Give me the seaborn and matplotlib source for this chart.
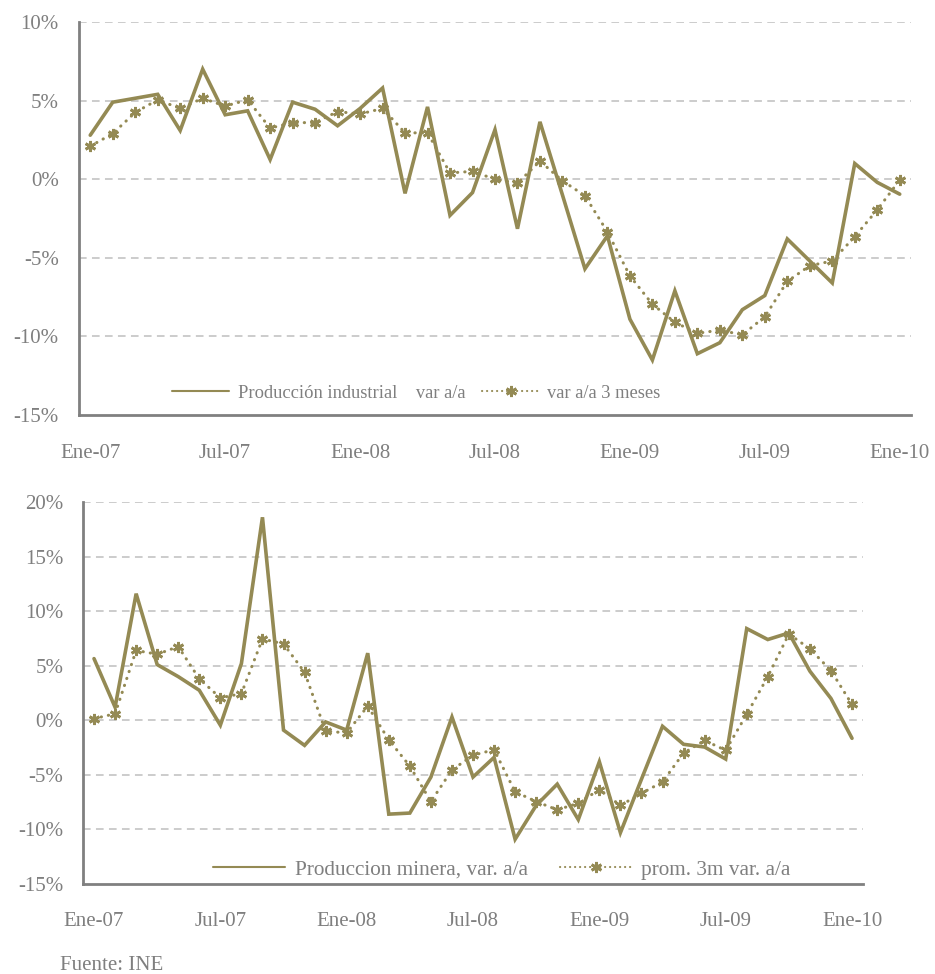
import pandas as pd
import seaborn as sns
import matplotlib.pyplot as plt

# ---------------- datos ----------------
meses = ["Ene", "Feb", "Mar", "Abr", "May", "Jun", "Jul", "Ago", "Sep", "Oct", "Nov", "Dic"]
periodos = [f"{m}-{a}" for a in ["07", "08", "09"] for m in meses] + ["Ene-10"]

prod_industrial = [2.8, 4.9, 5.15, 5.4, 3.1, 7.0, 4.1, 4.35, 1.25, 4.9, 4.45, 3.4,
                   4.5, 5.8, -0.9, 4.6, -2.3, -0.85, 3.15, -3.15, 3.65, -1.0, -5.7, -3.6,
                   -8.9, -11.5, -7.1, -11.1, -10.4, -8.3, -7.4, -3.8, -5.2, -6.6, 1.0, -0.2,
                   -0.95]
prod_industrial_3m = [2.1, 2.9, 4.25, 5.05, 4.5, 5.15, 4.65, 5.05, 3.25, 3.6, 3.6, 4.3,
                      4.15, 4.5, 2.95, 2.95, 0.4, 0.5, 0.0, -0.25, 1.15, -0.1, -1.05, -3.35,
                      -6.15, -7.95, -9.1, -9.8, -9.6, -9.9, -8.75, -6.5, -5.5, -5.2, -3.65, -1.95,
                      -0.05]

prod_minera = [5.65, 1.2, 11.6, 5.1, 4.0, 2.75, -0.45, 5.2, 18.6, -0.9, -2.3, -0.15,
               -0.9, 6.15, -8.6, -8.5, -5.2, 0.3, -5.2, -3.4, -10.9, -7.8, -5.85, -9.1,
               -3.8, -10.3, -5.4, -0.55, -2.2, -2.45, -3.55, 8.4, 7.4, 8.0, 4.5, 2.0,
               -1.65]
prod_minera_3m = [0.15, 0.6, 6.4, 6.05, 6.75, 3.8, 2.05, 2.45, 7.45, 7.0, 4.4, -1.0,
                  -1.15, 1.3, -1.8, -4.2, -7.45, -4.55, -3.2, -2.7, -6.55, -7.45, -8.2, -7.6,
                  -6.35, -7.8, -6.7, -5.65, -3.0, -1.85, -2.75, 0.55, 4.0, 7.9, 6.55, 4.55,
                  1.45]

etiquetas_x = ["Ene-07", "Jul-07", "Ene-08", "Jul-08", "Ene-09", "Jul-09", "Ene-10"]

df = pd.DataFrame({
    "idx": range(len(periodos)),
    "periodo": periodos,
    "ind": prod_industrial,
    "ind3": prod_industrial_3m,
    "min": prod_minera,
    "min3": prod_minera_3m,
})

# ---------------- estilo ----------------
sns.set_theme(style="white")
plt.rcParams["font.family"] = ["Liberation Serif", "DejaVu Serif"]

OLIVA = "#948A54"
GRIS = "#808080"
TEXTO = "#7F7F7F"
GRID = "#BFBFBF"

fig = plt.figure(figsize=(9.35, 9.74), dpi=100)
ax1 = fig.add_axes([0.0845, 0.5739, 0.8898, 0.4035])
ax2 = fig.add_axes([0.0893, 0.0924, 0.8332, 0.3922])


def dibujar(ax, col, col3, lab, lab3, ylim, xpad, leg_xy, leg_fs, hlen, cspace):
    sns.lineplot(data=df, x="idx", y=col, ax=ax, color=OLIVA, linewidth=2.6,
                 label=lab, solid_joinstyle="miter")
    sns.lineplot(data=df, x="idx", y=col3, ax=ax, color=OLIVA, linewidth=2.2,
                 linestyle=(0, (0.1, 2.3)), dash_capstyle="round",
                 marker=(6, 2, 0), markersize=8, markeredgewidth=2,
                 markeredgecolor=OLIVA, label=lab3)

    ax.set_xlim(-0.5, 36.5)
    ax.set_ylim(*ylim)
    yt = list(range(ylim[0], ylim[1] + 1, 5))
    ax.set_yticks(yt)
    ax.set_yticklabels([f"{v}%" for v in yt])
    for v in yt[1:]:
        ax.axhline(v, color=GRID, linewidth=1.1, linestyle=(0, (5, 3.5)), zorder=0)

    ax.set_xticks([i * 6 for i in range(len(etiquetas_x))])
    ax.set_xticklabels(etiquetas_x)
    ax.set_xticks([i * 6 - 0.5 for i in range(len(etiquetas_x))], minor=True)
    ax.tick_params(axis="x", which="major", length=0, pad=xpad, labelsize=15, labelcolor=TEXTO)
    ax.tick_params(axis="x", which="minor", length=5, width=1.6, color=GRIS, direction="out")
    ax.tick_params(axis="y", length=5, width=1.6, color=GRIS, direction="inout",
                   pad=12, labelsize=15, labelcolor=TEXTO)

    ax.set_xlabel("")
    ax.set_ylabel("")
    sns.despine(ax=ax)
    for s in ["left", "bottom"]:
        ax.spines[s].set_color(GRIS)
        ax.spines[s].set_linewidth(2)

    leg = ax.legend(loc="center left", bbox_to_anchor=leg_xy, ncol=2, frameon=False,
                    fontsize=leg_fs, handlelength=hlen, handletextpad=0.45,
                    columnspacing=cspace, borderpad=0, borderaxespad=0)
    for t in leg.get_texts():
        t.set_color(TEXTO)
    for h in leg.legend_handles:
        h.set_linewidth(1.5)


dibujar(ax1, "ind", "ind3", "Producción industrial    var a/a", "var a/a 3 meses",
        (-15, 10), 21, (0.112, 0.056), 13.3, 3.1, 0.9)
dibujar(ax2, "min", "min3", "Produccion minera, var. a/a", "prom. 3m var. a/a",
        (-15, 20), 20, (0.166, 0.037), 15.3, 3.4, 1.5)

fig.text(60 / 935, 0.004, "Fuente: INE", fontsize=15, color=TEXTO, va="baseline")

plt.savefig("out.png", dpi=100)
